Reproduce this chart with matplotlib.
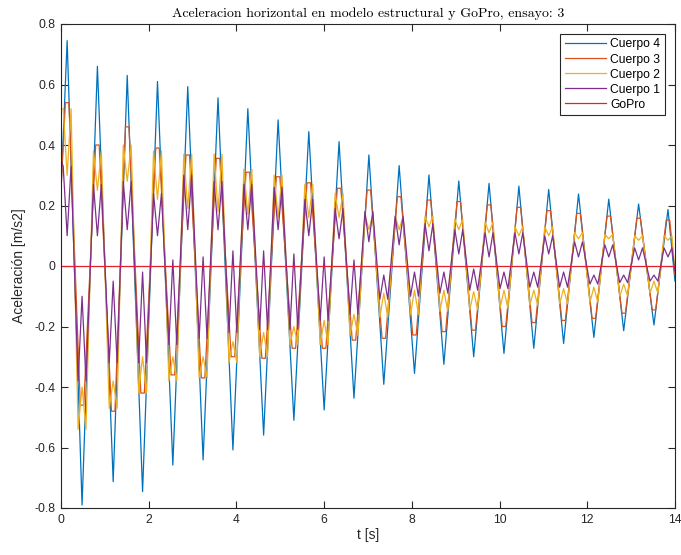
import matplotlib
matplotlib.use('Agg')
import matplotlib.pyplot as plt
import numpy as np

# Instantes de picos y valles (comunes a todas las series)
peak_t = [0.14, 0.83, 1.51, 2.20, 2.89, 3.58, 4.26, 4.95, 5.65, 6.34, 7.02,
          7.71, 8.39, 9.07, 9.76, 10.44, 11.12, 11.80, 12.49, 13.17, 13.84]
trough_t = [0.48, 1.19, 1.86, 2.55, 3.24, 3.92, 4.62, 5.31, 6.00, 6.68,
            7.36, 8.06, 8.73, 9.41, 10.10, 10.78, 11.46, 12.15, 12.83, 13.52]

# Cuerpo 4
c4_peak = [0.745, 0.66, 0.63, 0.61, 0.593, 0.556, 0.52, 0.483, 0.444, 0.411, 0.367,
           0.332, 0.301, 0.281, 0.273, 0.264, 0.253, 0.238, 0.221, 0.205, 0.187]
c4_trough = [-0.79, -0.713, -0.746, -0.658, -0.641, -0.608, -0.559, -0.51, -0.476, -0.437,
             -0.391, -0.355, -0.325, -0.30, -0.289, -0.272, -0.256, -0.236, -0.214, -0.195]

# Cuerpo 3
c3_peak = [0.54, 0.40, 0.46, 0.39, 0.367, 0.356, 0.31, 0.295, 0.275, 0.257, 0.251,
           0.229, 0.218, 0.213, 0.202, 0.194, 0.183, 0.174, 0.165, 0.158, 0.152]
c3_trough = [-0.46, -0.48, -0.42, -0.36, -0.37, -0.30, -0.305, -0.272, -0.272, -0.245,
             -0.239, -0.228, -0.217, -0.212, -0.20, -0.187, -0.18, -0.173, -0.156, -0.145]

# Cuerpo 2 (cresta con dos lomos y valle con joroba central)
c2_hump = [0.52, 0.38, 0.40, 0.38, 0.37, 0.37, 0.32, 0.30, 0.27, 0.24, 0.17,
           0.165, 0.165, 0.155, 0.145, 0.13, 0.13, 0.11, 0.105, 0.10, 0.10]
c2_dip = [0.30, 0.25, 0.28, 0.22, 0.19, 0.18, 0.17, 0.16, 0.16, 0.16, 0.12,
          0.12, 0.13, 0.12, 0.11, 0.10, 0.10, 0.09, 0.09, 0.085, 0.085]
c2_trough = [-0.54, -0.47, -0.42, -0.38, -0.37, -0.32, -0.30, -0.26, -0.26, -0.23,
             -0.17, -0.16, -0.15, -0.145, -0.14, -0.13, -0.125, -0.12, -0.10, -0.09]
c2_bump = [-0.40, -0.38, -0.30, -0.30, -0.30, -0.25, -0.22, -0.20, -0.18, -0.16,
           -0.09, -0.08, -0.08, -0.085, -0.08, -0.08, -0.075, -0.07, -0.06, -0.05]

# Cuerpo 1
c1_hump = [0.33, 0.27, 0.28, 0.24, 0.30, 0.28, 0.27, 0.26, 0.22, 0.19, 0.18,
           0.165, 0.14, 0.12, 0.11, 0.11, 0.10, 0.08, 0.07, 0.06, 0.06]
c1_dip = [0.10, 0.10, 0.12, 0.10, 0.12, 0.12, 0.12, 0.12, 0.10, 0.09, 0.08,
          0.07, 0.05, 0.04, 0.03, 0.04, 0.04, 0.03, 0.03, 0.02, 0.03]
c1_trough = [-0.38, -0.32, -0.32, -0.26, -0.24, -0.22, -0.21, -0.21, -0.18, -0.16,
             -0.11, -0.10, -0.09, -0.08, -0.075, -0.07, -0.07, -0.06, -0.055, -0.05]
c1_bump = [-0.10, -0.05, -0.02, 0.02, 0.03, 0.05, 0.05, 0.04, 0.03, 0.02,
           -0.03, -0.02, -0.02, -0.01, -0.02, -0.02, -0.02, -0.03, -0.03, -0.03]

# valores en los extremos t=0 y t=14
start_vals = {'c4': 0.25, 'c3': 0.25, 'c2': 0.52, 'c1': 0.35}
end_vals = {'c4': -0.05, 'c3': -0.03, 'c2': -0.02, 'c1': -0.02}

gopro_t = [0, 14]
gopro_a = [0.0, 0.0]


def build(hump, dip, trough, bump, w, a0, a1):
    t = [0.0]
    a = [a0]
    for k in range(len(peak_t)):
        if w > 0:
            t += [peak_t[k] - w, peak_t[k], peak_t[k] + w]
            a += [hump[k], dip[k], hump[k]]
        else:
            t.append(peak_t[k])
            a.append(hump[k])
        if k < len(trough_t):
            if w > 0:
                t += [trough_t[k] - w, trough_t[k], trough_t[k] + w]
                a += [trough[k], bump[k], trough[k]]
            else:
                t.append(trough_t[k])
                a.append(trough[k])
    t.append(14.0)
    a.append(a1)
    return t, a


t4, a4 = build(c4_peak, c4_peak, c4_trough, c4_trough, 0, start_vals['c4'], end_vals['c4'])
t3, a3 = build(c3_peak, c3_peak, c3_trough, c3_trough, 0.04, start_vals['c3'], end_vals['c3'])
t2, a2 = build(c2_hump, c2_dip, c2_trough, c2_bump, 0.09, start_vals['c2'], end_vals['c2'])
t1, a1 = build(c1_hump, c1_dip, c1_trough, c1_bump, 0.09, start_vals['c1'], end_vals['c1'])

plt.rcParams['font.family'] = ['Liberation Sans', 'DejaVu Sans']

fig = plt.figure(figsize=(6.81, 5.55), dpi=100)
ax = fig.add_axes([61 / 681, 47 / 555, 614 / 681, 484 / 555])

lw = 0.9
ax.plot(t4, a4, color='#0072BD', lw=lw, label='Cuerpo 4')
ax.plot(t3, a3, color='#D95319', lw=lw, label='Cuerpo 3')
ax.plot(t2, a2, color='#EDB120', lw=lw, label='Cuerpo 2')
ax.plot(t1, a1, color='#7E2F8E', lw=lw, label='Cuerpo 1')
ax.plot(gopro_t, gopro_a, color='#E3202B', lw=lw, label='GoPro')

ax.set_xlim(0, 14)
ax.set_ylim(-0.8, 0.8)
ax.set_xticks(np.arange(0, 15, 2))
ax.set_yticks(np.round(np.arange(-0.8, 0.81, 0.2), 1))
ax.set_yticklabels(['-0.8', '-0.6', '-0.4', '-0.2', '0', '0.2', '0.4', '0.6', '0.8'])

axcol = '#262626'
for s in ax.spines.values():
    s.set_color(axcol)
    s.set_linewidth(0.8)
ax.tick_params(direction='in', top=True, right=True, length=5, width=0.8,
               colors=axcol, labelsize=8.7, pad=4)

ax.set_xlabel('t [s]', fontsize=10, color=axcol, labelpad=2)
ax.set_ylabel('Aceleración [m/s2]', fontsize=10, color=axcol, labelpad=6)
ax.set_title('Aceleracion horizontal en modelo estructural y GoPro, ensayo: 3',
             fontfamily='cmr10', fontsize=10, pad=5, color='black')

leg = ax.legend(loc='upper right', fontsize=8.7, frameon=True, fancybox=False,
                edgecolor=axcol, framealpha=1, borderaxespad=0.8,
                handlelength=3.4, handletextpad=0.4, labelspacing=0.25,
                borderpad=0.4)
leg.get_frame().set_linewidth(0.8)

fig.savefig('out.png', dpi=100)
